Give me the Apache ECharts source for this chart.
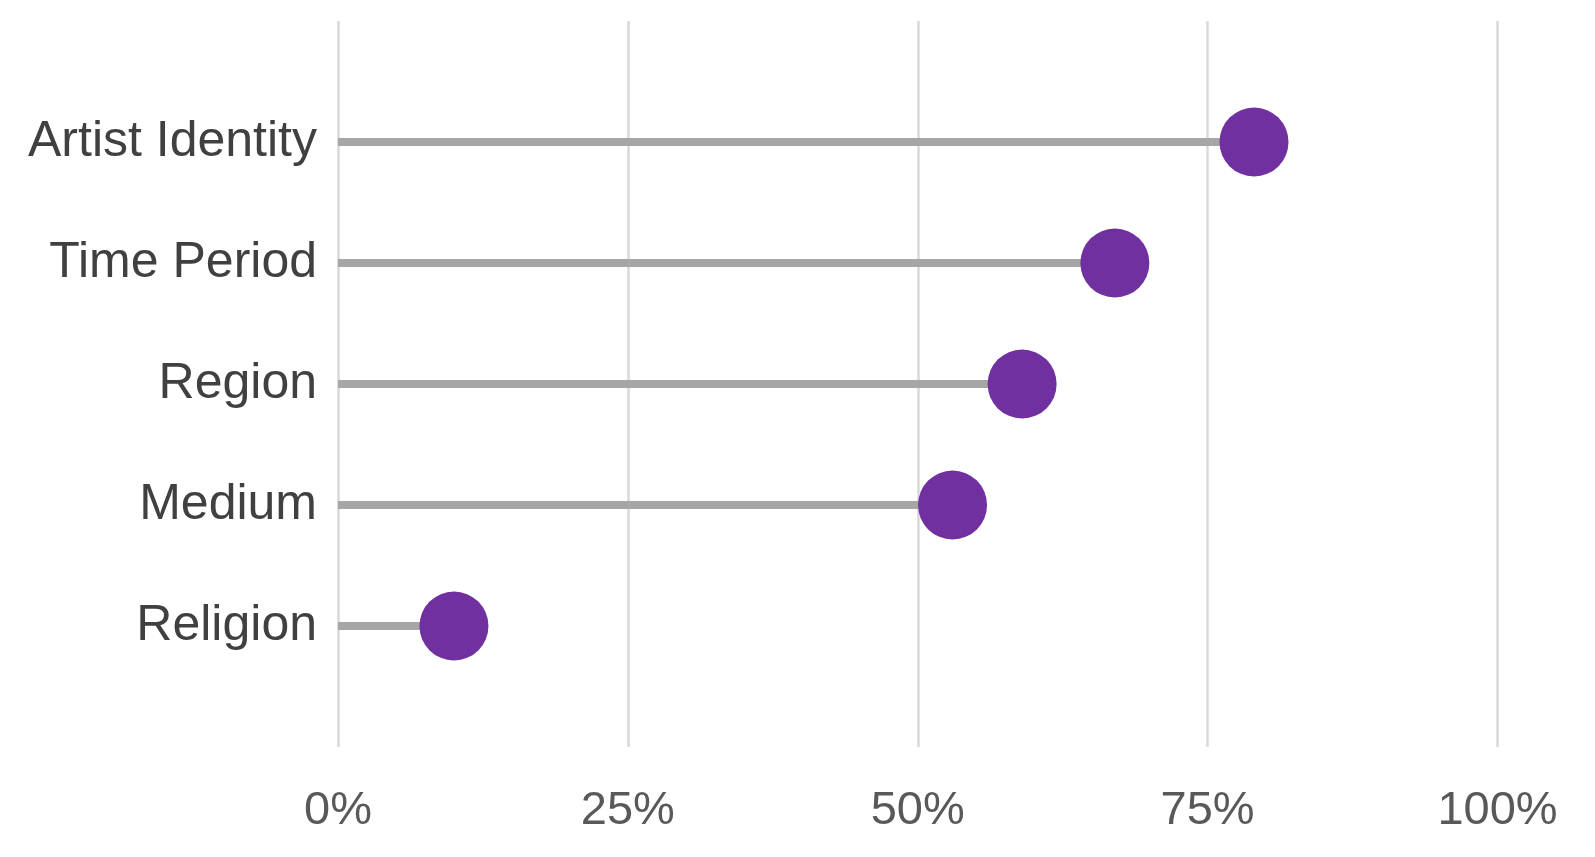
<!DOCTYPE html>
<html>
<head>
<meta charset="utf-8">
<title>Lollipop</title>
<script src="https://cdn.jsdelivr.net/npm/echarts@6/dist/echarts.min.js"></script>
<style>
  html, body { margin: 0; padding: 0; background: #fff; }
  #chart { width: 1595px; height: 857px; }
</style>
</head>
<body>
<div id="chart"></div>
<script>
// categories, bottom to top
const categories = ['Religion', 'Medium', 'Region', 'Time Period', 'Artist Identity']
const values = [0.10, 0.53, 0.59, 0.67, 0.79]
const tickValues = [0, 0.25, 0.5, 0.75, 1]

// blank slot above and below so the grid lines run past the rows
const axisCats = [''].concat(categories, [''])
const points = categories.map((c, i) => [values[i], c])

const chart = echarts.init(document.getElementById('chart'))
chart.setOption({
  animation: false,
  textStyle: { fontFamily: 'Liberation Sans, Arial, sans-serif' },
  grid: { left: 338, right: 97.5, top: 21, bottom: 110 },
  xAxis: {
    type: 'value',
    min: tickValues[0],
    max: tickValues[tickValues.length - 1],
    interval: 0.25,
    axisLine: { show: false },
    axisTick: { show: false },
    splitLine: { show: true, lineStyle: { color: '#d9d9d9', width: 2.5 } },
    axisLabel: {
      margin: 41,
      fontSize: 47,
      color: '#595959',
      formatter: v => Math.round(v * 100) + '%'
    }
  },
  yAxis: {
    type: 'category',
    data: axisCats,
    boundaryGap: false,
    axisLine: { show: false },
    axisTick: { show: false },
    splitLine: { show: false },
    axisLabel: { margin: 21, fontSize: 50, color: '#404040', padding: [10, 0, 0, 0] }
  },
  series: [
    {
      // stems
      type: 'bar',
      data: points,
      barWidth: 8,
      itemStyle: { color: '#a6a6a6' },
      z: 2
    },
    {
      // heads
      type: 'scatter',
      data: points,
      symbol: 'circle',
      symbolSize: 69,
      itemStyle: { color: '#7030a0', opacity: 1 },
      z: 3
    }
  ]
})
</script>
</body>
</html>
